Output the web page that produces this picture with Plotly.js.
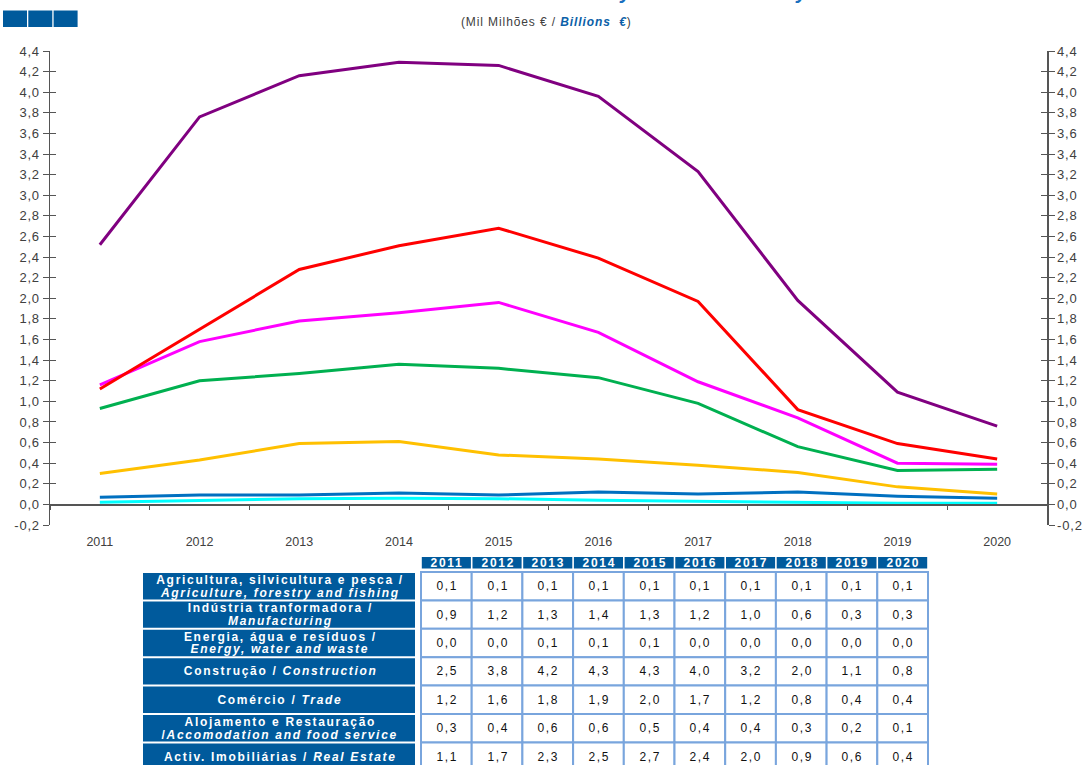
<!DOCTYPE html>
<html><head><meta charset="utf-8">
<script src="https://cdn.plot.ly/plotly-3.0.1.min.js"></script>
<style>
html,body{margin:0;padding:0;overflow:hidden;background:#fff;}
#chart{width:1088px;height:790px;}
g.annotation[data-index="1"] text{letter-spacing:0.9px;}
g.annotation:not([data-index="0"]):not([data-index="1"]) text{letter-spacing:1.7px;}
g.ytick text, g.y2tick text{letter-spacing:0.8px;}
</style></head><body><div id="chart"></div>
<script>
// ---------------- DATA ----------------
const years = ['2011','2012','2013','2014','2015','2016','2017','2018','2019','2020'];
const agriculture   = [0.07,0.09,0.09,0.11,0.09,0.12,0.10,0.12,0.08,0.06];
const manufacturing = [0.93,1.20,1.27,1.36,1.32,1.23,0.98,0.56,0.33,0.34];
const energy        = [0.02,0.04,0.055,0.06,0.055,0.04,0.03,0.02,0.01,0.01];
const construction  = [2.52,3.76,4.16,4.29,4.26,3.96,3.23,1.98,1.09,0.76];
const trade         = [1.16,1.58,1.78,1.86,1.96,1.67,1.19,0.84,0.40,0.39];
const accommodation = [0.30,0.43,0.59,0.61,0.48,0.44,0.38,0.31,0.17,0.10];
const realEstate    = [1.12,1.70,2.28,2.51,2.68,2.39,1.97,0.92,0.59,0.44];

const rowLabelTop = ['Agricultura, silvicultura e pesca /','Indústria tranformadora /','Energia, água e resíduos /',
  'Construção / <i>Construction</i>','Comércio / <i>Trade</i>','Alojamento e Restauração','Activ. Imobiliárias / <i>Real Estate</i>'];
const rowLabelBottom = ['<i>Agriculture, forestry and fishing</i>','<i>Manufacturing</i>','<i>Energy, water and waste</i>',
  '','','/<i>Accomodation and food service</i>',''];
const seriesNames = ['Agriculture, forestry and fishing','Manufacturing','Energy, water and waste','Construction','Trade','Accomodation and food service','Real Estate'];

const yTickVals = [-0.2,0,0.2,0.4,0.6,0.8,1.0,1.2,1.4,1.6,1.8,2.0,2.2,2.4,2.6,2.8,3.0,3.2,3.4,3.6,3.8,4.0,4.2,4.4];
const yTickText = ['-0,2','0,0','0,2','0,4','0,6','0,8','1,0','1,2','1,4','1,6','1,8','2,0','2,2','2,4','2,6','2,8','3,0','3,2','3,4','3,6','3,8','4,0','4,2','4,4'];

const titleText = 'Crédito Vencido / <i>Overdue Loans by Branch of Activity</i>';
const subtitleText = '(Mil Milhões € / <span style="color:#0b5fa8"><b><i>Billions  €</i></b></span>)';

// ---------------- STYLE / GEOMETRY ----------------
const seriesValues = [agriculture, manufacturing, energy, construction, trade, accommodation, realEstate];
const lineColors = ['#0070c0','#00b050','#00ffff','#800080','#ff00ff','#ffc000','#ff0000'];
const BLUE = '#005a9c', CELL_LINE = '#79a5dd', AXIS = '#555555', TXT = '#404040';
const FONT = '"Liberation Sans", Arial, Helvetica, sans-serif';

const W = 1088, H = 790, ML = 50, MR = 41, MT = 51, MB = 10;
const PW = W - ML - MR, PH = H - MT - MB;
const X = px => (px - ML) / PW;
const Y = py => (H - MB - py) / PH;
const yRange = [-0.2, 4.4];
const plotTopPx = 51, plotBotPx = 525;
const zeroPx = plotBotPx - (0 - yRange[0]) / (yRange[1] - yRange[0]) * (plotBotPx - plotTopPx);

// ---------------- TRACES ----------------
const traces = seriesValues.map((v, i) => ({
  type: 'scatter', mode: 'lines', x: years, y: v, name: seriesNames[i],
  line: {color: lineColors[i], width: 3}, xaxis: 'x', yaxis: 'y'
}));
['y2','y3','y4'].forEach(ax => traces.push({type:'scatter', mode:'lines', x: years, y: years.map(() => null),
  xaxis:'x', yaxis: ax, showlegend:false, hoverinfo:'skip', line:{width:0}}));

// ---------------- ANNOTATIONS / SHAPES ----------------
const shapes = [], annotations = [];
annotations.push({xref:'paper', yref:'paper', x:X(548), y:Y(5), xanchor:'center', yanchor:'bottom', showarrow:false,
  text: titleText, font:{family:FONT, size:20, color:'#1a6fbf', weight:'bold'}});
annotations.push({xref:'paper', yref:'paper', x:X(546), y:Y(22), xanchor:'center', yanchor:'middle', showarrow:false,
  text: subtitleText, font:{family:FONT, size:12, color:TXT}});

// logo squares
for (let i = 0; i < 3; i++) {
  shapes.push({type:'rect', xref:'paper', yref:'paper', x0:X(3 + i*25.3), x1:X(3 + i*25.3 + 24), y0:Y(27), y1:Y(10.5),
    fillcolor: BLUE, line:{width:0}, layer:'above'});
}

const T = {labX0:143, labX1:415, colX0:421, colW:50.7, hdY0:557, hdY1:568.5, rowY0:572, rowH:28.4};
const fmt = v => v.toFixed(1).replace('.', ',');

years.forEach((yr, c) => {
  const x0 = T.colX0 + c*T.colW, x1 = x0 + T.colW;
  shapes.push({type:'rect', xref:'paper', yref:'paper', x0:X(x0+0.8), x1:X(x1-0.8), y0:Y(T.hdY1), y1:Y(T.hdY0),
    fillcolor: BLUE, line:{width:0}});
  annotations.push({xref:'paper', yref:'paper', x:X((x0+x1)/2 + 1), y:Y((T.hdY0+T.hdY1)/2), xanchor:'center', yanchor:'middle',
    showarrow:false, text: yr, font:{family:FONT, size:12, color:'#ffffff', weight:'bold'}});
});

seriesValues.forEach((vals, r) => {
  const y0 = T.rowY0 + r*T.rowH, y1 = y0 + T.rowH, yc = (y0 + y1)/2;
  shapes.push({type:'rect', xref:'paper', yref:'paper', x0:X(T.labX0), x1:X(T.labX1), y0:Y(y1-1), y1:Y(y0+1),
    fillcolor: BLUE, line:{width:0}});
  const lx = X((T.labX0 + T.labX1)/2 + 1);
  const lf = {family:FONT, size:12, color:'#ffffff', weight:'bold'};
  if (rowLabelBottom[r]) {
    annotations.push({xref:'paper', yref:'paper', x:lx, y:Y(yc-6.4), xanchor:'center', yanchor:'middle', showarrow:false,
      text: rowLabelTop[r], font: lf});
    annotations.push({xref:'paper', yref:'paper', x:lx, y:Y(yc+6.4), xanchor:'center', yanchor:'middle', showarrow:false,
      text: rowLabelBottom[r], font: lf});
  } else {
    annotations.push({xref:'paper', yref:'paper', x:lx, y:Y(yc), xanchor:'center', yanchor:'middle', showarrow:false,
      text: rowLabelTop[r], font: lf});
  }
  vals.forEach((v, c) => {
    const x0 = T.colX0 + c*T.colW, x1 = x0 + T.colW;
    shapes.push({type:'rect', xref:'paper', yref:'paper', x0:X(x0), x1:X(x1), y0:Y(y1), y1:Y(y0),
      fillcolor:'#ffffff', line:{color: CELL_LINE, width:2}});
    annotations.push({xref:'paper', yref:'paper', x:X((x0+x1)/2 + 1), y:Y(yc), xanchor:'center', yanchor:'middle',
      showarrow:false, text: fmt(v), font:{family:FONT, size:12, color:'#111111'}});
  });
});

// ---------------- LAYOUT ----------------
const yBase = {range: yRange, tickvals: yTickVals, ticktext: yTickText, showgrid:false, zeroline:false,
  tickfont:{family:FONT, size:13, color:TXT}, tickcolor: AXIS, tickwidth:1, fixedrange:true};
const layout = {
  width: W, height: H, margin:{l:ML, r:MR, t:MT, b:MB, pad:0},
  paper_bgcolor:'#ffffff', plot_bgcolor:'#ffffff', showlegend:false,
  font:{family:FONT, size:12, color:TXT},
  xaxis:{type:'category', range:[-0.5, 9.5], domain:[0,1], anchor:'free', position: Y(zeroPx),
    tickson:'boundaries', ticks:'outside', ticklen:4, tickcolor:AXIS, tickwidth:1,
    showline:true, linecolor:AXIS, linewidth:1.5, showgrid:false, zeroline:false,
    ticklabelstandoff:25, tickfont:{family:FONT, size:12.5, color:TXT}, fixedrange:true},
  yaxis: Object.assign({}, yBase, {domain:[Y(plotBotPx), 1], anchor:'x', side:'left', ticks:'outside', ticklen:6,
    showline:true, linecolor:AXIS, linewidth:1.5}),
  yaxis2: Object.assign({}, yBase, {overlaying:'y', anchor:'x', side:'right', ticks:'outside', ticklen:6,
    showline:true, linecolor:AXIS, linewidth:1.5}),
  yaxis3: Object.assign({}, yBase, {overlaying:'y', anchor:'x', side:'left', ticks:'inside', ticklen:6,
    showticklabels:false, showline:false}),
  yaxis4: Object.assign({}, yBase, {overlaying:'y', anchor:'x', side:'right', ticks:'inside', ticklen:6,
    showticklabels:false, showline:false}),
  shapes: shapes, annotations: annotations
};

Plotly.newPlot('chart', traces, layout, {displayModeBar:false, staticPlot:true});
</script></body></html>
